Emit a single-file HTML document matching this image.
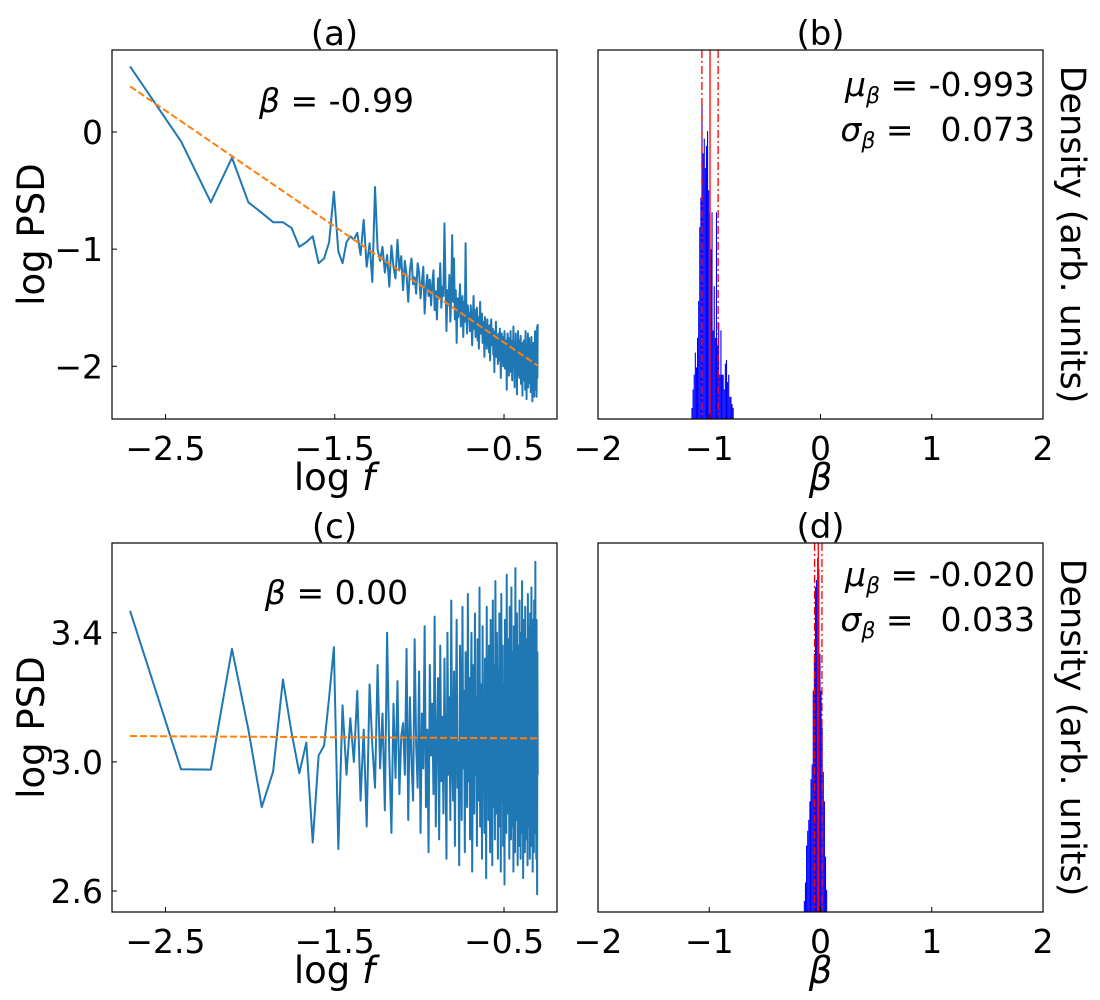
<!DOCTYPE html>
<html><head><meta charset="utf-8"><style>
html,body{margin:0;padding:0;background:#fff;}
svg{display:block;font-family:"DejaVu Sans","Liberation Sans",sans-serif;}
</style></head><body>
<svg id="fig" width="1100" height="1000" viewBox="0 0 1100 1000" xmlns="http://www.w3.org/2000/svg"></svg>
<script>
// ---- data ----
const psdA = [0.56,-0.08,-0.60,-0.22,-0.60,-0.69,-0.77,-0.77,-0.82,-0.98,-0.94,-0.89,-1.12,-1.08,-0.94,-0.51,-1.02,-1.12,-0.94,-0.89,
-0.92,-0.86,-1.05,-0.75,-1.15,-0.95,-1.28,-0.47,-1.00,-1.10,
-0.98,-1.20,-1.05,-1.32,-0.97,-1.15,-1.25,-0.92,-1.18,-1.06,
-1.35,-1.10,-1.22,-1.45,-1.18,-1.08,-1.30,-1.24,-1.38,-1.12,
-1.20,-1.42,-1.28,-1.15,-1.55,-1.33,-1.22,-1.40,-1.26,-1.48,
-1.30,-1.18,-1.52,-1.36,-1.60,-1.25,-1.42,-1.12,-1.50,-1.32,
-1.40,-0.78,-1.28,-1.70,-1.35,-1.48,-1.22,-1.62,-1.38,-0.88,
-1.45,-1.08,-1.60,-1.35,-1.80,-1.42,-1.58,-1.48,-1.30,-1.66,
-1.52,-1.40,-1.75,-1.45,-1.62,-0.95,-1.55,-1.72,-1.48,-1.60,
-1.55,-1.70,-1.48,-1.65,-1.82,-1.58,-1.40,-1.68,-1.52,-1.75,
-1.62,-1.50,-1.78,-1.58,-1.85,-1.66,-1.45,-1.72,-1.60,-1.55,
-1.80,-1.62,-1.70,-1.92,-1.58,-1.75,-1.66,-1.85,-1.60,-1.78,
-1.70,-1.88,-1.65,-1.95,-1.72,-1.60,-1.82,-1.76,-1.68,-1.90,
-1.78,-2.05,-1.70,-1.85,-1.62,-1.92,-1.80,-1.74,-1.98,-1.72,
-1.85,-1.95,-1.68,-1.88,-2.10,-1.78,-1.72,-1.92,-1.84,-2.00,
-1.75,-1.90,-1.70,-2.02,-1.82,-1.95,-1.78,-2.20,-1.86,-1.72,
-1.98,-1.80,-2.08,-1.76,-1.92,-1.88,-1.70,-2.05,-1.84,-1.96,
-2.12,-1.78,-1.90,-1.66,-2.00,-1.86,-2.18,-1.80,-1.94,-1.72,
-2.02,-1.88,-2.24,-1.82,-1.96,-1.70,-2.08,-1.92,-1.78,-2.10,
-1.86,-2.00,-1.74,-2.15,-1.90,-1.98,-1.80,-2.25,-1.88,-1.95,
-2.05,-1.78,-2.12,-1.92,-1.84,-2.20,-1.70,-2.00,-1.90,-2.28,
-1.82,-2.06,-1.96,-1.72,-2.18,-1.88,-2.02,-1.76,-2.14,-1.94,
-2.08,-1.85,-2.22,-1.98,-1.75,-2.10,-1.92,-2.30,-1.86,-2.04,
-1.80,-2.16,-1.95,-2.26,-1.88,-2.02,-1.70,-2.20,-1.92,-2.12,
-1.84,-2.26,-1.98,-1.66,-2.10,-1.64];
const psdC = [3.468,2.977,2.976,3.35,3.10,2.86,2.97,3.255,3.09,2.965,3.06,2.75,3.02,3.05,3.20,3.355,2.73,3.175,2.96,3.135,
3.00,3.22,2.88,3.10,2.80,3.24,3.05,2.92,3.30,2.98,
3.15,2.85,3.40,3.02,2.78,3.18,2.95,3.25,2.90,3.08,
3.12,2.96,3.35,2.82,3.20,3.00,2.88,3.38,3.05,2.92,
3.28,2.78,3.15,2.98,3.42,2.86,3.10,2.72,3.30,3.02,
3.18,2.90,3.45,2.80,3.08,3.26,2.76,3.36,2.94,3.14,
2.84,3.32,3.02,2.70,3.40,2.96,3.20,2.82,3.50,3.00,
2.88,3.28,2.74,3.12,3.44,2.92,3.06,2.68,3.36,3.16,
2.82,3.48,2.98,3.22,2.72,3.34,3.04,2.86,3.52,2.94,
3.26,2.76,3.14,3.40,2.66,3.08,3.30,2.84,3.46,2.96,
3.20,2.74,3.38,3.02,2.88,3.54,2.80,3.24,3.10,2.70,
3.42,2.92,3.16,2.78,3.32,3.06,2.64,3.48,2.98,3.26,
2.82,3.36,3.12,2.72,3.44,2.90,3.18,2.68,3.50,3.04,
2.86,3.30,2.76,3.56,3.00,2.84,3.40,3.14,2.70,3.28,
2.94,3.46,2.80,3.20,2.66,3.52,3.08,2.88,3.36,2.74,
3.24,3.02,2.62,3.44,2.90,3.30,2.78,3.58,3.06,2.84,
3.38,2.96,3.18,2.70,3.48,2.86,3.26,2.76,3.54,3.00,
2.80,3.34,3.10,2.66,3.42,2.92,3.22,2.72,3.60,2.98,
3.28,2.82,3.46,3.04,2.68,3.36,2.90,3.16,2.74,3.50,
2.94,3.24,2.70,3.40,3.06,2.78,3.56,2.88,3.20,2.64,
3.44,3.00,2.84,3.32,2.72,3.48,2.96,3.14,2.76,3.38,
2.90,3.26,2.68,3.52,3.02,2.80,3.42,2.94,3.18,2.70,
3.46,2.86,3.30,2.74,3.54,3.08,2.82,3.36,2.66,3.44,
2.98,3.20,2.72,3.50,2.90,3.28,2.78,3.62,2.96,3.24,
2.70,3.44,2.88,2.59,3.34,2.96];
const fitA = [0.39, -0.99];
const fitC = [3.08, -0.003];
const binsB = [-1.16,-1.15,-1.14,-1.13,-1.12,-1.11,-1.10,-1.09,-1.08,-1.07,-1.06,-1.05,-1.04,-1.03,-1.02,-1.01,-1.00,-0.99,-0.98,-0.97,-0.96,-0.95,-0.94,-0.93,-0.92,-0.91,-0.90,-0.89,-0.88,-0.87,-0.86,-0.85,-0.84,-0.83,-0.82,-0.81,-0.80,-0.79];
const densB = [0.03,0.08,0.12,0.18,0.14,0.22,0.32,0.52,0.60,0.85,0.72,0.76,0.68,0.74,0.78,0.62,0.56,0.46,0.56,0.24,0.36,0.22,0.56,0.20,0.26,0.12,0.24,0.12,0.12,0.08,0.15,0.16,0.10,0.12,0.06,0.06,0.04,0.03];
const binsD = [-0.15,-0.14,-0.13,-0.12,-0.11,-0.10,-0.09,-0.08,-0.07,-0.06,-0.05,-0.04,-0.03,-0.02,-0.01,0.00,0.01,0.02,0.03,0.04,0.05];
const densD = [0.03,0.08,0.18,0.22,0.25,0.30,0.36,0.40,0.60,0.70,0.88,0.90,0.96,0.93,0.70,0.60,0.50,0.38,0.30,0.15,0.06];
const statsB = [-0.993, 0.073];
const statsD = [-0.020, 0.033];
const xTicksLeft = [-2.5, -1.5, -0.5];
const xTickLabelsLeft = ["\u22122.5","\u22121.5","\u22120.5"];
const yTicksA = [0, -1, -2];
const yTickLabelsA = ["0","\u22121","\u22122"];
const yTicksC = [3.4, 3.0, 2.6];
const yTickLabelsC = ["3.4","3.0","2.6"];
const xTicksRight = [-2,-1,0,1,2];
const xTickLabelsRight = ["\u22122","\u22121","0","1","2"];
const binWidth = 0.01;
const nFreq = 512;

// ---- drawing ----
const NS = "http://www.w3.org/2000/svg";
const svg = document.getElementById('fig');
const FT = 33, FL = 37, FA = 33;
function mk(tag, attrs, parent, txt){
  const e = document.createElementNS(NS, tag);
  for (const k in attrs) e.setAttribute(k, attrs[k]);
  if (txt !== undefined) e.textContent = txt;
  (parent||svg).appendChild(e);
  return e;
}
function scale(d0,d1,r0,r1){return v => r0 + (v-d0)/(d1-d0)*(r1-r0);}

function linePanel(id, L, T, R, B, xlim, ylim, psd, fit, yT, yTL, title, ann, annY){
  const g = mk('g', {});  
  const sx = scale(xlim[0], xlim[1], L, R), sy = scale(ylim[0], ylim[1], B, T);
  const clipId = 'clip-' + id;
  const cp = mk('clipPath', {id: clipId}, g); mk('rect', {x:L, y:T, width:R-L, height:B-T}, cp);
  let d = '';
  psd.forEach((v,i) => { const x = Math.log10((i+1)/nFreq); d += (i?'L':'M') + sx(x).toFixed(2) + ',' + sy(v).toFixed(2); });
  const pl = mk('path', {d, fill:'none', stroke:'#1f77b4', 'stroke-width':2, 'stroke-linejoin':'round', 'clip-path':'url(#'+clipId+')'}, g);
   
  const x0 = Math.log10(1/nFreq), x1 = Math.log10(psd.length/nFreq);
  const fl = mk('line', {x1:sx(x0), y1:sy(fit[0]), x2:sx(x1), y2:sy(fit[0] + fit[1]*(x1-x0)), stroke:'#ff7f0e', 'stroke-width':2, 'stroke-dasharray':'7,3'}, g);
   
  const fr = mk('rect', {x:L, y:T, width:R-L, height:B-T, fill:'none', stroke:'#000', 'stroke-width':1.2}, g);
   
  xTicksLeft.forEach((t,i) => {
    mk('line', {x1:sx(t), y1:B, x2:sx(t), y2:B-5, stroke:'#000', 'stroke-width':1}, g);
    const tl = mk('text', {x:sx(t), y:B+41, 'font-size':FT, 'text-anchor':'middle'}, g, xTickLabelsLeft[i]);
     
  });
  yT.forEach((t,i) => {
    mk('line', {x1:L, y1:sy(t), x2:L+5, y2:sy(t), stroke:'#000', 'stroke-width':1}, g);
    const tl = mk('text', {x:L-9, y:sy(t)+12, 'font-size':FT, 'text-anchor':'end'}, g, yTL[i]);
     
  });
  const tt = mk('text', {x:(L+R)/2, y:T-5, 'font-size':FL-3, 'text-anchor':'middle'}, g, title);
   
  const an = mk('text', {x:(L+R)/2 + 2, y:annY, 'font-size':FA, 'text-anchor':'middle'}, g);
   
  mk('tspan', {'font-style':'italic'}, an, '\u03B2');
  mk('tspan', {}, an, ' = ' + ann);
  const xl = mk('text', {x:(L+R)/2, y:B+71, 'font-size':FL, 'text-anchor':'middle'}, g);
   
  mk('tspan', {}, xl, 'log ');
  mk('tspan', {'font-style':'italic'}, xl, 'f');
  const cy = (T+B)/2;
  const yl = mk('text', {x:44, y:cy, 'font-size':FL, 'text-anchor':'middle', transform:'rotate(-90 44 '+cy+')'}, g, 'log PSD');
   
}

function histPanel(id, L, T, R, B, bins, dens, stats, title, muY){
  const g = mk('g', {});  
  const sx = scale(-2, 2, L, R), sy = scale(0, 1, B, T);
  bins.forEach((b,i) => {
    const r = mk('rect', {x:sx(b), y:sy(dens[i]), width:Math.max(0.8, sx(b+binWidth)-sx(b)), height:B-sy(dens[i]), fill:'#0000ff'}, g);
     
  });
  const m = mk('line', {x1:sx(stats[0]), y1:T, x2:sx(stats[0]), y2:B, stroke:'#ff0000', 'stroke-width':1.3}, g);
   
  [-1,1].forEach(s => {
    const l = mk('line', {x1:sx(stats[0]+s*stats[1]), y1:T, x2:sx(stats[0]+s*stats[1]), y2:B, stroke:'#ff0000', 'stroke-width':1.3, 'stroke-dasharray':'8,3,2,3'}, g);
     
  });
  const fr = mk('rect', {x:L, y:T, width:R-L, height:B-T, fill:'none', stroke:'#000', 'stroke-width':1.2}, g);
   
  xTicksRight.forEach((t,i) => {
    mk('line', {x1:sx(t), y1:B, x2:sx(t), y2:B-5, stroke:'#000', 'stroke-width':1}, g);
    const tl = mk('text', {x:sx(t), y:B+41, 'font-size':FT, 'text-anchor':'middle'}, g, xTickLabelsRight[i]);
     
  });
  const tt = mk('text', {x:(L+R)/2, y:T-5, 'font-size':FL-3, 'text-anchor':'middle'}, g, title);
   
  const xl = mk('text', {x:(L+R)/2, y:B+71, 'font-size':FL, 'text-anchor':'middle', 'font-style':'italic'}, g, '\u03B2');
   
  const mu = mk('text', {x:R-8, y:muY, 'font-size':FA, 'text-anchor':'end'}, g);
   
  mk('tspan', {'font-style':'italic'}, mu, '\u03BC');
  mk('tspan', {'font-style':'italic', 'font-size':22, dy:7}, mu, '\u03B2');
  mk('tspan', {dy:-7}, mu, ' = ' + stats[0].toFixed(3));
  const sg = mk('text', {x:R-8, y:muY+45, 'font-size':FA, 'text-anchor':'end'}, g);
   
  mk('tspan', {'font-style':'italic'}, sg, '\u03C3');
  mk('tspan', {'font-style':'italic', 'font-size':22, dy:7}, sg, '\u03B2');
  mk('tspan', {dy:-7}, sg, ' =\u2002 ' + stats[1].toFixed(3));
  const cy = (T+B)/2;
  const yl = mk('text', {x:1061, y:cy, 'font-size':35, 'text-anchor':'middle', transform:'rotate(90 1061 '+cy+')'}, g, 'Density (arb. units)');
   
}

const xlimL = [-2.816, -0.187];
linePanel('a', 112, 50, 557, 419, xlimL, [-2.45, 0.70], psdA, fitA, yTicksA, yTickLabelsA, '(a)', '-0.99', 112);
histPanel('b', 598, 50, 1043, 419, binsB, densB, statsB, '(b)', 96);
linePanel('c', 112, 543, 557, 912, xlimL, [2.535, 3.678], psdC, fitC, yTicksC, yTickLabelsC, '(c)', '0.00', 604);
histPanel('d', 598, 543, 1043, 912, binsD, densD, statsD, '(d)', 586);
</script>
</body></html>
